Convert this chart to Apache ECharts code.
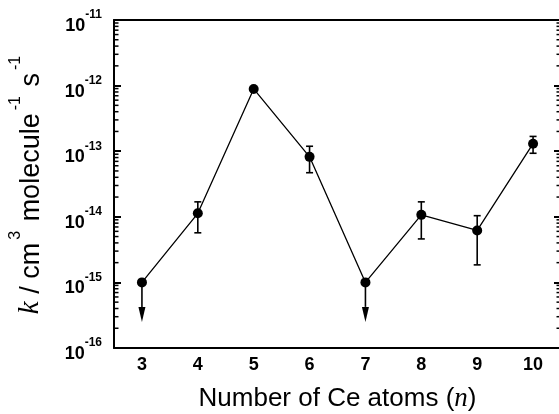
<!DOCTYPE html>
<html>
<head>
<meta charset="utf-8">
<script src="https://cdn.jsdelivr.net/npm/echarts@6/dist/echarts.min.js"></script>
<style>
  html, body { margin: 0; padding: 0; background: #fff; }
  #main { width: 559px; height: 414px; }
</style>
</head>
<body>
<div id="main"></div>
<script>
// number of Ce atoms
const atoms = ['3', '4', '5', '6', '7', '8', '9', '10'];
// rate constants k, cm3 molecule-1 s-1
const rates = [1e-15, 1.13e-14, 8.9e-13, 8.2e-14, 1e-15, 1.07e-14, 6.2e-15, 1.3e-13];
// error bar ends (null = no bar)
const errLow = [null, 5.7e-15, null, 4.7e-14, null, 4.6e-15, 1.85e-15, 9.3e-14];
const errHigh = [null, 1.69e-14, null, 1.19e-13, null, 1.69e-14, 1.04e-14, 1.68e-13];
// upper limits: index of the point and where the arrow ends
const limitIdx = [0, 4];
const limitTip = [2.5e-16, 2.5e-16];
// log axis decades and minor steps
const decades = [-16, -15, -14, -13, -12];
const minorSteps = [2, 3, 4, 5, 6, 7, 8, 9];

const sans = '"Liberation Sans", Arial, sans-serif';
const serif = '"Liberation Serif", "Times New Roman", serif';

let errData = [];
rates.forEach(function (v, i) {
  if (errLow[i] !== null) errData.push([i, errLow[i], errHigh[i]]);
});
let limitData = limitIdx.map(function (i, k) {
  return [i, rates[i], limitTip[k]];
});
let minorData = [];
decades.forEach(function (d) {
  minorSteps.forEach(function (m) {
    minorData.push([0, m * Math.pow(10, d)]);
  });
});

function renderErr (params, api) {
  const x = api.value(0);
  const lo = api.coord([x, api.value(1)]);
  const hi = api.coord([x, api.value(2)]);
  const w = 3.5;
  const st = { stroke: '#000', lineWidth: 1.6 };
  return {
    type: 'group',
    children: [
      { type: 'line', shape: { x1: lo[0], y1: lo[1], x2: hi[0], y2: hi[1] }, style: st },
      { type: 'line', shape: { x1: lo[0] - w, y1: lo[1], x2: lo[0] + w, y2: lo[1] }, style: st },
      { type: 'line', shape: { x1: hi[0] - w, y1: hi[1], x2: hi[0] + w, y2: hi[1] }, style: st }
    ]
  };
}

function renderLimit (params, api) {
  const x = api.value(0);
  const p = api.coord([x, api.value(1)]);
  const tip = api.coord([x, api.value(2)]);
  const head = 15;
  return {
    type: 'group',
    children: [
      { type: 'line', shape: { x1: p[0], y1: p[1], x2: tip[0], y2: tip[1] - head }, style: { stroke: '#000', lineWidth: 1.6 } },
      { type: 'polygon', shape: { points: [[tip[0] - 3.5, tip[1] - head], [tip[0] + 3.5, tip[1] - head], [tip[0], tip[1]]] }, style: { fill: '#000' } }
    ]
  };
}

function renderMinor (params, api) {
  const cs = params.coordSys;
  const y = api.coord([0, api.value(1)])[1];
  const len = 4.5;
  const st = { stroke: '#000', lineWidth: 1.5 };
  return {
    type: 'group',
    children: [
      { type: 'line', shape: { x1: cs.x, y1: y, x2: cs.x + len, y2: y }, style: st },
      { type: 'line', shape: { x1: cs.x + cs.width - len, y1: y, x2: cs.x + cs.width, y2: y }, style: st }
    ]
  };
}

const labelRich = {
  b: { fontSize: 18, fontWeight: 'bold', fontFamily: sans, color: '#000', lineHeight: 18, verticalAlign: 'bottom' },
  s: { fontSize: 12, fontWeight: 'bold', fontFamily: sans, color: '#000', lineHeight: 12, verticalAlign: 'bottom', padding: [0, 0, 14, 0] }
};

const chart = echarts.init(document.getElementById('main'));
chart.setOption({
  animation: false,
  backgroundColor: '#fff',
  grid: { left: 114, right: -2, top: 20, bottom: 66, containLabel: false, outerBoundsMode: 'none' },
  xAxis: [
    {
      type: 'category',
      data: atoms,
      boundaryGap: true,
      name: '{t|Number of Ce atoms (}{i|n}{t|)}',
      nameLocation: 'middle',
      nameGap: 37,
      nameMoveOverlap: false,
      nameTextStyle: {
        rich: {
          t: { fontSize: 26, fontFamily: sans, color: '#000' },
          i: { fontSize: 27, fontFamily: serif, fontStyle: 'italic', color: '#000' }
        }
      },
      axisLine: { lineStyle: { color: '#000', width: 2 } },
      axisTick: { inside: true, length: 7, alignWithLabel: true, lineStyle: { color: '#000', width: 2 } },
      axisLabel: { margin: 8, fontSize: 18, fontWeight: 'bold', fontFamily: sans, color: '#000' },
      splitLine: { show: false }
    },
    {
      type: 'category',
      data: atoms,
      position: 'top',
      axisLine: { lineStyle: { color: '#000', width: 2 } },
      axisTick: { show: false },
      axisLabel: { show: false },
      splitLine: { show: false }
    }
  ],
  yAxis: [
    {
      type: 'log',
      logBase: 10,
      min: 1e-16,
      max: 1e-11,
      splitNumber: 5,
      name: '{i|k}{t| / cm}{sup|3}{t| molecule}{sup|-1}{t| s}{sup|-1}',
      nameLocation: 'middle',
      nameGap: 69,
      nameMoveOverlap: false,
      nameTextStyle: {
        rich: {
          i: { fontSize: 29, fontFamily: serif, fontStyle: 'italic', color: '#000', lineHeight: 29, verticalAlign: 'bottom' },
          t: { fontSize: 27, fontFamily: sans, color: '#000', lineHeight: 27, verticalAlign: 'bottom' },
          sup: { fontSize: 16, fontFamily: sans, color: '#000', lineHeight: 16, verticalAlign: 'bottom', padding: [0, 2, 21, 3] }
        }
      },
      axisLine: { show: true, lineStyle: { color: '#000', width: 2 } },
      axisTick: { show: true, inside: true, length: 7, lineStyle: { color: '#000', width: 2 } },
      axisLabel: {
        margin: 12,
        padding: [12, 0, 0, 0],
        formatter: function (v) {
          return '{b|10}{s|' + Math.round(Math.log10(v)) + '}';
        },
        rich: labelRich
      },
      splitLine: { show: false }
    },
    {
      type: 'log',
      logBase: 10,
      min: 1e-16,
      max: 1e-11,
      splitNumber: 5,
      position: 'right',
      axisLine: { show: true, lineStyle: { color: '#000', width: 2 } },
      axisTick: { show: true, inside: true, length: 7, lineStyle: { color: '#000', width: 2 } },
      axisLabel: { show: false },
      splitLine: { show: false }
    }
  ],
  series: [
    {
      type: 'custom',
      renderItem: renderMinor,
      data: minorData,
      encode: { x: 0, y: 1 },
      silent: true,
      clip: false,
      z: 5
    },
    {
      type: 'custom',
      renderItem: renderErr,
      data: errData,
      encode: { x: 0, y: [1, 2] },
      silent: true,
      z: 3
    },
    {
      type: 'custom',
      renderItem: renderLimit,
      data: limitData,
      encode: { x: 0, y: [1, 2] },
      silent: true,
      z: 3
    },
    {
      type: 'line',
      data: rates,
      symbol: 'circle',
      symbolSize: 10,
      lineStyle: { color: '#000', width: 1.3 },
      itemStyle: { color: '#000' },
      z: 4
    }
  ]
});
</script>
</body>
</html>
